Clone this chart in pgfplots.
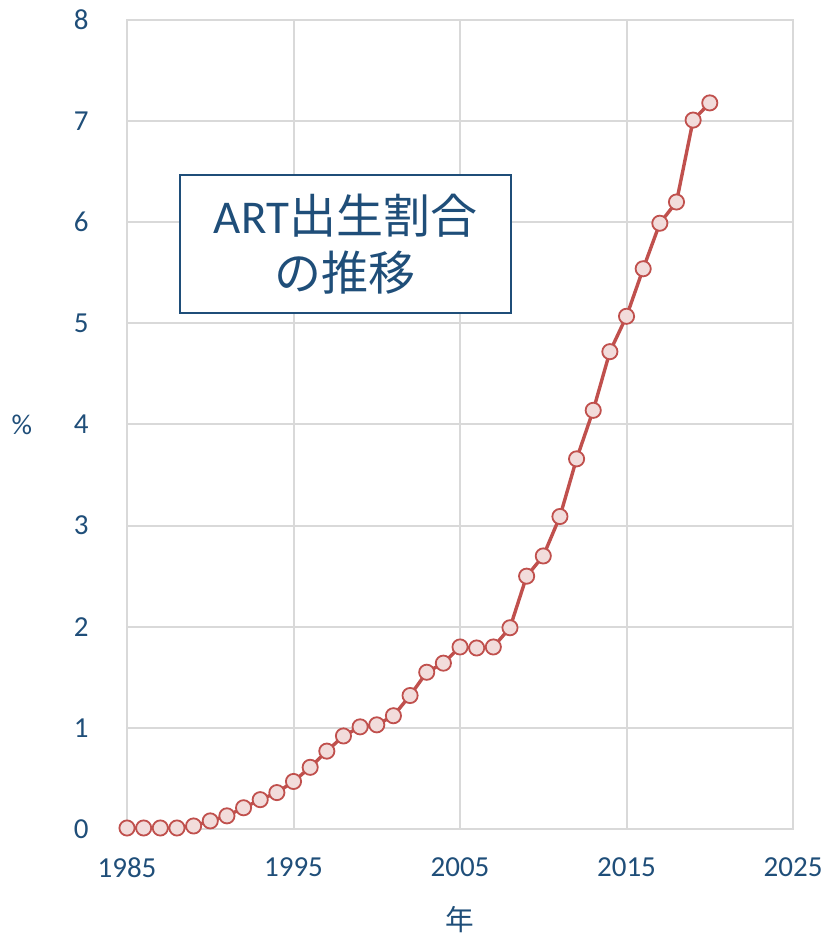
\documentclass[border=0pt]{standalone}
\usepackage{fontspec}
\setmainfont{Carlito}
\newfontfamily\cjk{Noto Sans CJK JP}
\usepackage{pgfplots}
\pgfplotsset{compat=1.18}
\definecolor{txtblue}{HTML}{1F4E79}
\definecolor{linered}{HTML}{C0504D}
\definecolor{mkfill}{HTML}{F2DCDB}
\definecolor{gridgray}{HTML}{D9D9D9}

\pgfplotstableread{
year val
1985 0.01
1986 0.01
1987 0.01
1988 0.01
1989 0.03
1990 0.08
1991 0.13
1992 0.21
1993 0.29
1994 0.36
1995 0.47
1996 0.61
1997 0.77
1998 0.92
1999 1.01
2000 1.03
2001 1.12
2002 1.32
2003 1.55
2004 1.64
2005 1.80
2006 1.79
2007 1.80
2008 1.99
2009 2.50
2010 2.70
2011 3.09
2012 3.66
2013 4.14
2014 4.72
2015 5.07
2016 5.54
2017 5.99
2018 6.20
2019 7.01
2020 7.18
}\artdata

\begin{document}
\begin{tikzpicture}
\begin{axis}[
  scale only axis,
  width=333pt, height=404.5pt,
  xmin=1985, xmax=2025, ymin=0, ymax=8,
  xtick={1985,1995,2005,2015,2025},
  ytick={0,1,2,3,4,5,6,7,8},
  grid=major,
  grid style={gridgray, line width=1pt},
  axis line style={gridgray, line width=1pt},
  major tick length=0pt,
  /pgf/number format/1000 sep={},
  /pgf/number format/assume math mode=true,
  ticklabel style={font=\fontsize{14.5}{17}\selectfont, text=txtblue, inner sep=0pt},
  yticklabel style={anchor=east, xshift=-19pt},
  xticklabel style={anchor=north, yshift=-14pt},
  xlabel={\cjk 年},
  xlabel style={at={(rel axis cs:0.5,-0.1125)}, anchor=center, font=\fontsize{14.3}{17}\selectfont, text=txtblue},
  ylabel={\%},
  ylabel style={at={(rel axis cs:-0.158,0.5)}, anchor=center, rotate=-90, font=\fontsize{14.3}{17}\selectfont, text=txtblue},
  clip=false,
]
\addplot[color=linered, line width=1.7pt, mark=*, mark size=3.8pt,
  mark options={fill=mkfill, draw=linered, line width=0.9pt}]
  table[x=year, y=val] {\artdata};
\node[draw=txtblue, line width=1.1pt, fill=white, minimum width=165.5pt, minimum height=69pt,
  align=center, text=txtblue, font=\fontsize{23.5}{28.5}\selectfont]
  at (rel axis cs:0.328,0.723) {ART{\cjk 出生割合}\\{\cjk の推移}};
\coordinate (bbtl) at (rel axis cs:-0.1907,1.0247);
\coordinate (bbbr) at (rel axis cs:1.054,-0.1335);
\end{axis}
\pgfresetboundingbox
\path (bbtl) rectangle (bbbr);
\end{tikzpicture}
\end{document}
